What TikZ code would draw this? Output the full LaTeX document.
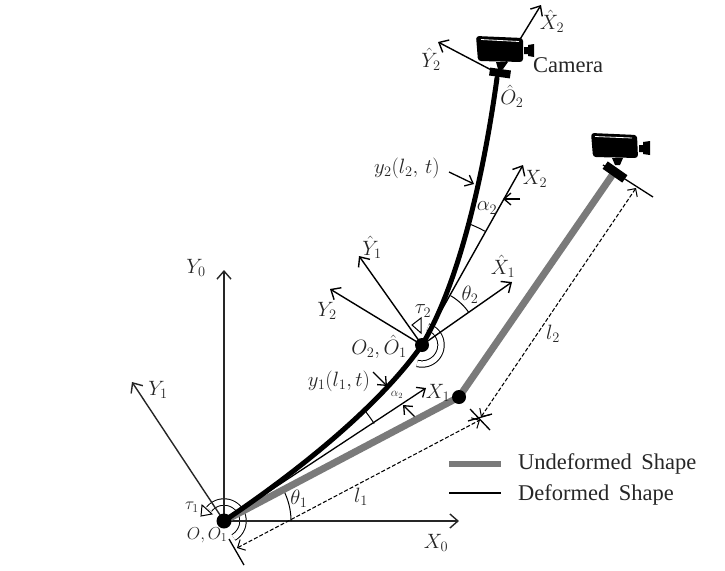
\documentclass[tikz,border=0pt]{standalone}
\usepackage{fontspec}
\setmainfont{Liberation Serif}
\usetikzlibrary{arrows.meta}
\tikzset{
  x=1pt,y=-1pt,
  axis/.style={draw=black!85,line width=1.4pt,-{Straight Barb[length=8pt,width=14pt,line width=1.4pt]}},
  smallarrow/.style={draw=black,line width=1.3pt,-{Straight Barb[length=7pt,width=12pt,line width=1.3pt]}},
  dim/.style={draw=black,line width=1.05pt,dash pattern=on 4pt off 2pt,{Straight Barb[length=6pt,width=12pt,line width=1pt]}-{Straight Barb[length=6pt,width=12pt,line width=1pt]}},
  tick/.style={draw=black,line width=1.3pt},
  anglearc/.style={draw=black,line width=1pt},
  undeformed/.style={draw=black!52,line width=7pt,line join=miter},
  deformed/.style={draw=black,line width=5pt,line cap=round},
  hinge/.style={circle,fill=black,inner sep=0pt},
  lab/.style={inner sep=0pt,font=\fontsize{20.74}{22}\selectfont,text=black!85},
  midlab/.style={inner sep=0pt,font=\fontsize{17.28}{20}\selectfont,text=black!85},
  smalllab/.style={inner sep=0pt,font=\fontsize{12}{14}\selectfont,text=black!85},
  word/.style={inner sep=0pt,font=\fontsize{22.5}{24}\selectfont,text=black!85},
  camfill/.style={fill=black,draw=none},
}
\newcommand{\hollowring}[4]{% centre, from, to, radius
  \draw[shift={(#1)},line width=7.4pt,black] plot[domain=#2:#3,samples=40,smooth] (\x:#4);
  \draw[shift={(#1)},line width=5.4pt,white] plot[domain=#2:#3,samples=40,smooth] (\x:#4);
}
\begin{document}
\begin{tikzpicture}
\useasboundingbox (0,0) rectangle (725,570);
\fill[white] (0,0) rectangle (725,570);
% key points
\coordinate (O) at (224,521);
\coordinate (J) at (459,397);
\coordinate (E) at (613,174);
\coordinate (O2) at (422,345);
\coordinate (T) at (497,78);
\coordinate (Y0t) at (224,270);
\coordinate (X0t) at (459,521);
\coordinate (Y1t) at (132,382);
\coordinate (X1t) at (426,388);
\coordinate (Y2t) at (330,289);
\coordinate (Yh1t) at (359,256);
\coordinate (Xh1t) at (512,282);
\coordinate (X2t) at (523,165);
\coordinate (Yh2t) at (438,42);
\coordinate (Xh2t) at (541,5);
\coordinate (Xh2s) at (500,72);
\coordinate (Yh2s) at (497,73);
% tau rings go under the axes
\hollowring{O}{60}{-142}{19}
\draw[black,line width=1pt,fill=white,line join=miter] (201,516) -- (202,505) -- (212,514) -- cycle;
\hollowring{O2}{105}{-72}{19}
\draw[black,line width=1pt,fill=white,line join=miter] (412,325) -- (421,318) -- (421,333) -- cycle;
% axes
\draw[axis] (O) -- (Y0t);
\draw[axis] (O) -- (X0t);
\draw[axis] (O) -- (Y1t);
\draw[smallarrow] (O) -- (X1t);
\draw[axis,draw=black] (O2) -- (Y2t);
\draw[axis,draw=black] (O2) -- (Yh1t);
\draw[axis,draw=black] (O2) -- (Xh1t);
\draw[axis,draw=black] (O2) -- (X2t);
\draw[axis,draw=black] (Yh2s) -- (Yh2t);
\draw[axis,draw=black] (Xh2s) -- (Xh2t);
% small arrows on the slopes
\coordinate (a1s) at (415,417); \coordinate (a1e) at (403,405);
\draw[smallarrow] (a1s) -- (a1e);
\coordinate (a2s) at (520,199); \coordinate (a2e) at (503,199);
\draw[smallarrow] (a2s) -- (a2e);
\coordinate (a3s) at (373,372); \coordinate (a3e) at (387,386);
\draw[smallarrow] (a3s) -- (a3e);
\coordinate (a4s) at (449,172); \coordinate (a4e) at (474,184);
\draw[smallarrow] (a4s) -- (a4e);
% angle arcs
\draw[anglearc,shift={(O)}] plot[domain=0:-29,samples=20,smooth] (\x:67);
\draw[anglearc,shift={(O)}] plot[domain=-33:-37.5,samples=5] (\x:179);
\draw[anglearc,shift={(O2)}] plot[domain=-35:-60,samples=20,smooth] (\x:57);
\draw[anglearc,shift={(O2)}] plot[domain=-61:-68.5,samples=8] (\x:130);
% beams
\draw[undeformed] (O) -- (J) -- (E);
\draw[deformed] (O) .. controls (300,470) and (380,405) .. (O2) .. controls (458,285) and (483,180) .. (T);
\node[hinge,minimum size=15pt] (nO) at (O) {};
\node[hinge,minimum size=14pt] (nO2) at (O2) {};
\node[hinge,minimum size=14pt] (nJ) at (J) {};
% length dimensions
\coordinate (t1a) at (229,539); \coordinate (t1b) at (244,565);
\coordinate (t2a) at (470,409); \coordinate (t2b) at (490,430);
\coordinate (t3a) at (603,165); \coordinate (t3b) at (653,197);
\coordinate (t4a) at (468,421); \coordinate (t4b) at (492,414);
\draw[tick] (t1a) -- (t1b);
\draw[tick] (t2a) -- (t2b);
\draw[tick] (t3a) -- (t3b);
\draw[tick] (t4a) -- (t4b);
\coordinate (d1a) at (237,548); \coordinate (d1b) at (480,420);
\coordinate (d2a) at (481,417); \coordinate (d2b) at (636,188);
\draw[dim] (d1a) -- (d1b);
\draw[dim] (d2a) -- (d2b);
% camera at the deformed tip
\fill[camfill,rounded corners=3pt] (476,36) -- (523,38) -- (523,62) -- (478,61) -- cycle;
\draw[white,line width=.8pt] (481,39.5) -- (519,41.5);
\fill[camfill] (524,47) -- (528,47) -- (528,45) -- (534,44) -- (534,57) -- (528,56) -- (528,54) -- (524,54) -- cycle;
\fill[camfill] (496,62) -- (508,62) -- (503,69) -- (498,69) -- cycle;
\node[camfill,rotate=-8,minimum width=21pt,minimum height=8pt,inner sep=0pt] (clampA) at (500,73) {};
% camera at the undeformed tip
\fill[camfill,rounded corners=3pt] (591,133) -- (637,135) -- (638,158) -- (593,157) -- cycle;
\draw[white,line width=.8pt] (595,136.5) -- (632,138);
\fill[camfill] (639,145) -- (643,145) -- (643,142) -- (650,141) -- (650,155) -- (643,154) -- (643,152) -- (639,152) -- cycle;
\fill[camfill] (612,158) -- (623,158) -- (620,165) -- (615,165) -- cycle;
\node[camfill,rotate=-35,minimum width=24pt,minimum height=9pt,inner sep=0pt] (clampB) at (615,172) {};
% labels
\node[lab] (lY0) at (196,268) {$Y_0$};
\node[lab] (lX0) at (436,543) {$X_0$};
\node[lab] (lY1) at (158,390) {$Y_1$};
\node[midlab] (lt1) at (192,507) {$\tau_1$};
\node[midlab] (lO) at (207,535) {$O,O_1$};
\node[lab] (lth1) at (299,499) {$\theta_1$};
\node[lab] (ll1) at (361,497) {$l_1$};
\node[lab] (ll2) at (553,334) {$l_2$};
\node[lab] (ly1) at (339,381) {$y_1(l_1,t)$};
\node[smalllab] (lal1) at (397,395) {$\alpha_2$};
\node[lab] (lX1) at (438,393) {$X_1$};
\node[lab] (lO2) at (379,347) {$O_2,\hat{O}_1$};
\node[lab] (lt2) at (423,311) {$\tau_2$};
\node[lab] (lth2) at (470,295) {$\theta_2$};
\node[lab] (lYh1) at (372,247) {$\hat{Y}_1$};
\node[lab] (lY2) at (327,311) {$Y_2$};
\node[lab] (lXh1) at (503,266) {$\hat{X}_1$};
\node[lab] (lal2) at (487,208) {$\alpha_2$};
\node[lab] (lX2) at (535,179) {$X_2$};
\node[lab] (ly2) at (407,168) {$y_2(l_2,\,t)$};
\node[lab] (lOh2) at (512,96) {$\hat{O}_2$};
\node[word,anchor=west] (lcam) at (533,65) {Camera};
\node[lab] (lYh2) at (431,59) {$\hat{Y}_2$};
\node[lab] (lXh2) at (552,21) {$\hat{X}_2$};
% legend
\coordinate (u1) at (449,464); \coordinate (u2) at (501,464);
\coordinate (v1) at (449,493); \coordinate (v2) at (501,493);
\draw[draw=black!52,line width=5.5pt] (u1) -- (u2);
\draw[draw=black,line width=1.6pt] (v1) -- (v2);
\node[word,anchor=west] (lu) at (518,464) {Undeformed\ \,Shape};
\node[word,anchor=west] (ld) at (518,495) {Deformed\ \,Shape};
\end{tikzpicture}
\end{document}
